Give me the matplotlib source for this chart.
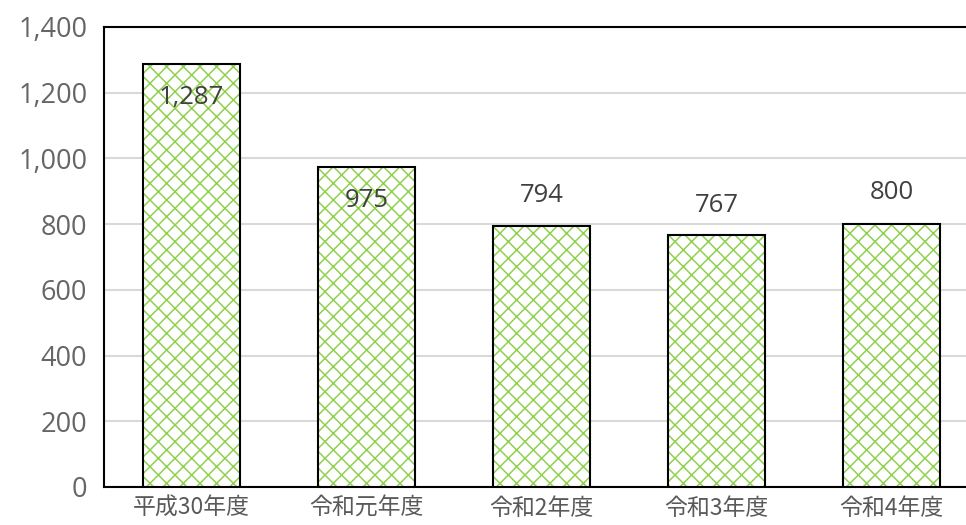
import numpy as np
import matplotlib
import matplotlib.pyplot as plt

categories = ['平成30年度', '令和元年度', '令和2年度', '令和3年度', '令和4年度']
values = [1287, 975, 794, 767, 800]
value_labels = ['1,287', '975', '794', '767', '800']
label_y = [1184, 873, 886, 858, 895]  # where the data labels sit (manual placement)
yticks = [0, 200, 400, 600, 800, 1000, 1200, 1400]

plt.rcParams['hatch.linewidth'] = 1.1

fig = plt.figure(figsize=(9.66, 5.25), dpi=100)
ax = fig.add_axes([0.1077, 0.0724, 0.906, 0.8762])

x = np.arange(len(categories))
# green lattice fill, then black outline on top
ax.bar(x, values, width=0.554, facecolor='white', edgecolor='#8fd14f',
       linewidth=0, hatch='xx', zorder=3)
ax.bar(x, values, width=0.554, facecolor='none', edgecolor='black',
       linewidth=1.5, zorder=3.5)

for xi, lab, ly in zip(x, value_labels, label_y):
    ax.text(xi, ly, lab, ha='center', va='center', fontsize=18.5,
            family=['Open Sans', 'DejaVu Sans'], color='#404040', zorder=4)

ax.set_xlim(-0.5, 4.5)
ax.set_ylim(0, 1400)
ax.set_yticks(yticks)
ax.set_yticklabels([f'{v:,}' for v in yticks], family=['Open Sans', 'DejaVu Sans'],
                   fontsize=19.5, color='#666666')
ax.set_xticks(x)
ax.set_xticklabels(categories, family=['Noto Sans CJK JP', 'DejaVu Sans'],
                   fontsize=16.5, color='#595959')
ax.tick_params(length=0, axis='y', pad=12)
ax.tick_params(length=0, axis='x', pad=7)

ax.grid(axis='y', color='#d9d9d9', linewidth=1.5, zorder=0)
for s in ['left', 'top', 'bottom']:
    ax.spines[s].set_color('black')
    ax.spines[s].set_linewidth(1.5)
ax.spines['right'].set_visible(False)

fig.savefig('out.png', dpi=100)
